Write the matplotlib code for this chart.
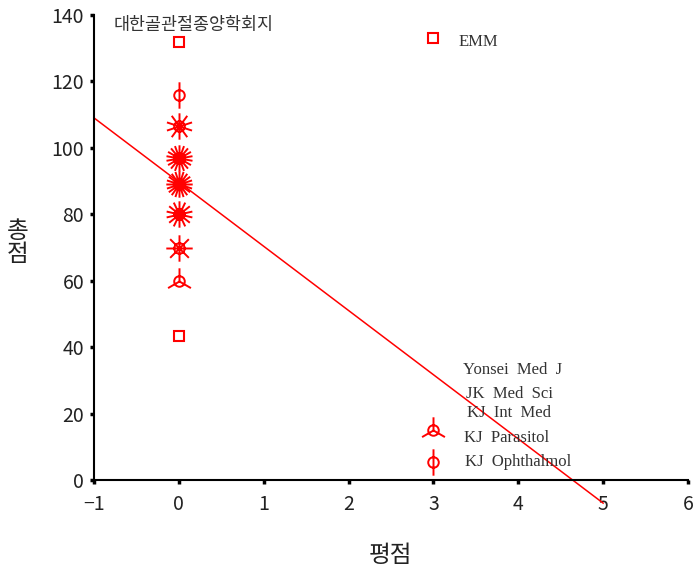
import numpy as np
import matplotlib
matplotlib.use("Agg")
import matplotlib.pyplot as plt
from matplotlib.path import Path

plt.rcParams['font.family'] = ['Noto Sans CJK KR', 'DejaVu Sans']

# data: (평점, 총점, number of journals)
x_vals = [0, 0, 0, 0, 0, 0, 0, 0, 0, 3, 3, 3]
y_vals = [132, 116, 106.5, 97, 89, 80, 70, 60, 43.5, 133, 15, 5.5]
counts = [1, 2, 10, 18, 20, 14, 8, 3, 1, 1, 3, 2]

fit_intercept = 89.7
fit_slope = -19.33
fit_range = [-1, 5]

labels = ["대한골관절종양학회지", "EMM", "Yonsei Med J", "JK Med Sci",
          "KJ Int Med", "KJ Parasitol", "KJ Ophthalmol"]
label_x = [-0.77, 3.30, 3.35, 3.38, 3.40, 3.36, 3.37]
label_y = [137, 132, 33.1, 25.9, 20.2, 12.6, 5.4]

xticks = [-1, 0, 1, 2, 3, 4, 5, 6]
yticks = [0, 20, 40, 60, 80, 100, 120, 140]


def sunflower(n):
    paths = [Path.circle((0, 0), 0.40)]
    for k in range(n):
        a = np.pi / 2 + 2 * np.pi * k / n
        paths.append(Path([(0, 0), (np.cos(a), np.sin(a))], [Path.MOVETO, Path.LINETO]))
    return Path.make_compound_path(*paths)


fig = plt.figure(figsize=(6.96, 5.81), dpi=100)
ax = fig.add_axes([0.135, 0.1738, 0.8535, 0.8004])
ax.set_xlim(-1, 6)
ax.set_ylim(0, 140)

for x, y, n in zip(x_vals, y_vals, counts):
    if n == 1:
        ax.plot(x, y, marker='s', ms=7, mfc='none', mec='red', mew=1.5,
                linestyle='none', clip_on=False)
    else:
        ax.plot(x, y, marker=sunflower(n), ms=19, mfc='none', mec='red', mew=1.4,
                linestyle='none', clip_on=False)

xs = np.array(fit_range, dtype=float)
ax.plot(xs, fit_intercept + fit_slope * xs, color='red', lw=1.1, clip_on=False)

ax.text(label_x[0], label_y[0], labels[0], fontsize=12.5, color='#333333',
        ha='left', va='center')
for t, lx, ly in zip(labels[1:], label_x[1:], label_y[1:]):
    ax.text(lx, ly, t.replace(" ", "  "), fontsize=12, color='#333333', ha='left',
            va='center', family=['Liberation Serif'])

for s in ['top', 'right']:
    ax.spines[s].set_visible(False)
for s in ['left', 'bottom']:
    ax.spines[s].set_linewidth(1.5)

ax.set_xticks(xticks)
ax.set_xticklabels([str(v).replace('-', '\u2212') for v in xticks])
ax.set_yticks(yticks)
ax.tick_params(axis='both', direction='out', length=3, width=2.5, labelsize=14,
               colors='black')
ax.tick_params(axis='x', pad=7)
ax.tick_params(axis='y', pad=4)
for lab in ax.get_xticklabels() + ax.get_yticklabels():
    lab.set_fontweight('light')
    lab.set_color('#222222')

fig.text(390 / 696, 1 - 555 / 581, "평점", fontsize=17, ha='center', va='center',
         color='#222222')
fig.text(18 / 696, 1 - 243 / 581, "총\n점", fontsize=17, ha='center', va='center',
         linespacing=1.0, color='#222222')

fig.savefig("out.png", dpi=100)
